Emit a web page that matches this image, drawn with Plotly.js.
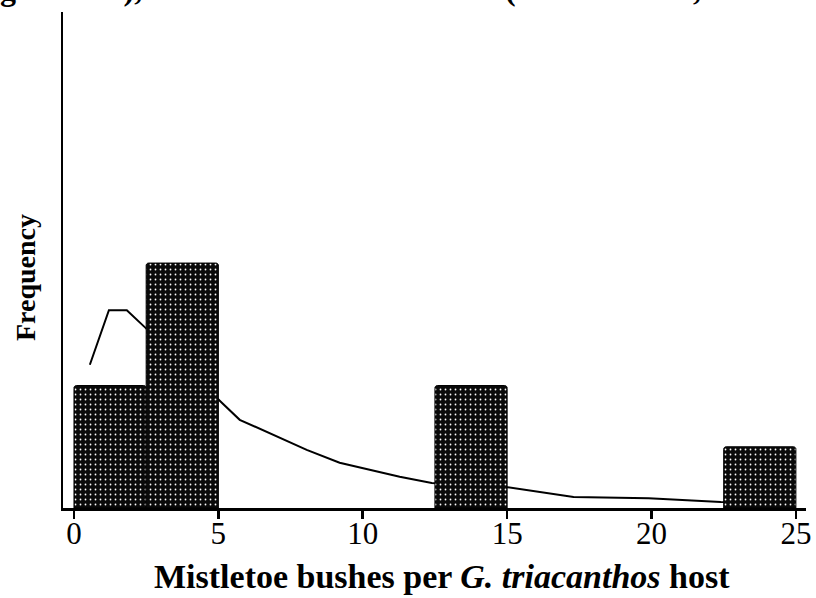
<!DOCTYPE html>
<html>
<head>
<meta charset="utf-8">
<script src="https://cdn.plot.ly/plotly-3.0.1.min.js"></script>
<style>html,body{margin:0;padding:0;background:#fff;}#chart{width:816px;height:598px;}</style>
</head>
<body>
<div id="chart"></div>
<script>
// Histogram bins (bin centers), bin widths, frequencies
const binCenters = [1.25, 3.75, 13.75, 23.75];
const binWidth = [2.5, 2.5, 2.5, 2.5];
const counts = [2, 4, 2, 1];

// Fitted (log normal) density curve, scaled to counts
const curveX = [0.55, 1.21, 1.83, 2.46, 5.12, 5.74, 8.06, 9.2, 11.28, 12.39, 15.0, 17.3, 19.9, 22.4, 24.9];
const curveY = [2.34, 3.23, 3.23, 2.95, 1.72, 1.44, 0.95, 0.74, 0.51, 0.41, 0.34, 0.18, 0.16, 0.10, 0.08];

const xTicks = [0, 5, 10, 15, 20, 25];
const topText = "g normal), KSL Goodness of Fit Test (D = 0.342938, P = 0.01)";
const xTitle = "<b>Mistletoe bushes per <i>G. triacanthos</i> host</b>";
const yTitle = "<b>Frequency</b>";

const serif = "Liberation Serif, Times New Roman, serif";
const xRange = [-0.38, 25.35];
const yRange = [0, 8.1];

const data = [
  {
    type: 'scatter', mode: 'lines', x: curveX, y: curveY,
    xaxis: 'x', yaxis: 'y',
    line: {color: 'black', width: 2}, hoverinfo: 'skip', showlegend: false
  },
  {
    type: 'bar', x: binCenters, y: counts, width: binWidth,
    xaxis: 'x2', yaxis: 'y2',
    marker: {
      color: 'black',
      line: {color: 'black', width: 1},
      cornerradius: 3,
      pattern: {shape: '.', fgcolor: 'white', bgcolor: '#0a0a0a', size: 5, solidity: 0.1, fillmode: 'replace'}
    },
    showlegend: false
  }
];

const layout = {
  width: 816, height: 598,
  margin: {l: 63, r: 10, t: 12, b: 90},
  paper_bgcolor: 'white', plot_bgcolor: 'white',
  bargap: 0,
  font: {family: serif, color: 'black'},
  xaxis: {
    range: xRange,
    tickvals: xTicks, ticktext: xTicks.map(String),
    ticks: 'outside', ticklen: 8, tickwidth: 2.5, tickcolor: 'black',
    ticklabelstandoff: -12,
    showline: true, linewidth: 3, linecolor: 'black',
    showgrid: false, zeroline: false,
    tickfont: {family: serif, size: 31, color: 'black'}
  },
  yaxis: {
    range: yRange,
    showline: true, linewidth: 2.5, linecolor: 'black',
    showgrid: false, zeroline: false, ticks: '', showticklabels: false
  },
  xaxis2: {range: xRange, overlaying: 'x', visible: false},
  yaxis2: {range: yRange, overlaying: 'y', visible: false},
  annotations: [
    {
      text: "<b>" + topText + "</b>",
      xref: 'paper', yref: 'paper', x: -0.088, y: 1.046,
      xanchor: 'left', yanchor: 'middle', showarrow: false,
      font: {family: serif, size: 32, color: 'black'}
    },
    {
      text: xTitle,
      xref: 'paper', yref: 'paper', x: 0.51, y: -0.139,
      xanchor: 'center', yanchor: 'middle', showarrow: false,
      font: {family: serif, size: 34, color: 'black'}
    },
    {
      text: yTitle, textangle: -90,
      xref: 'paper', yref: 'paper', x: -0.0511, y: 0.4637,
      xanchor: 'center', yanchor: 'middle', showarrow: false,
      font: {family: serif, size: 28, color: 'black'}
    }
  ]
};

Plotly.newPlot('chart', data, layout, {staticPlot: true});
</script>
</body>
</html>
